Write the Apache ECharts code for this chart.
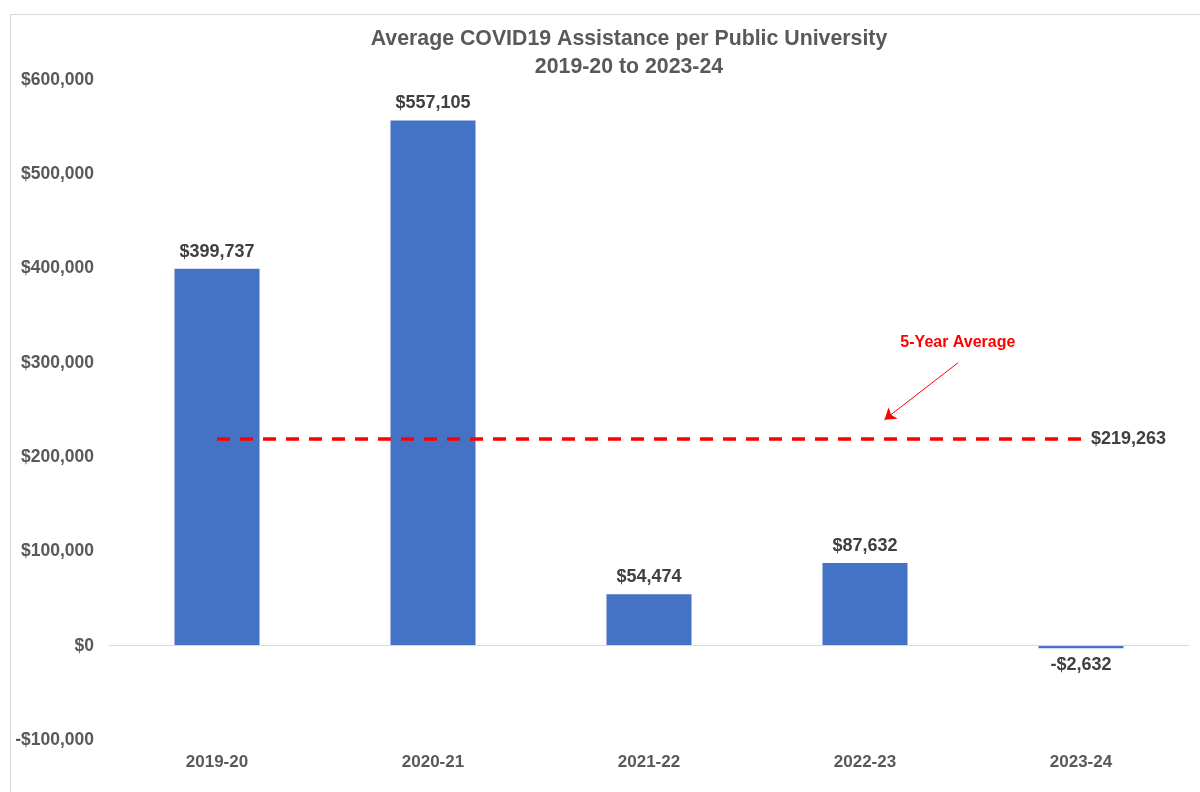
<!DOCTYPE html>
<html>
<head>
<meta charset="utf-8">
<script src="https://cdn.jsdelivr.net/npm/echarts@6/dist/echarts.min.js"></script>
<style>html,body{margin:0;padding:0;background:#fff}#c{width:1200px;height:792px}</style>
</head>
<body>
<div id="c"></div>
<script>
const categories = ['2019-20', '2020-21', '2021-22', '2022-23', '2023-24'];
const assistance = [399737, 557105, 54474, 87632, -2632];
const fiveYearAverage = [219263, 219263, 219263, 219263, 219263];
const averageLabel = '5-Year Average';
const arrowFrom = [3.43, 300000];
const arrowTo = [3.09, 239700];
const annotationAt = [3.43, 322000];

function money(v) {
  const s = '$' + Math.abs(v).toLocaleString('en-US');
  return v < 0 ? '-' + s : s;
}

const FONT = '"Liberation Sans", Arial, sans-serif';
const GRAY = '#595959';

const chart = echarts.init(document.getElementById('c'), null, {renderer: 'canvas'});
chart.setOption({
  backgroundColor: '#fff',
  animation: false,
  title: {
    text: 'Average COVID19 Assistance per Public University\n2019-20 to 2023-24',
    left: 624, top: 20, textAlign: 'center',
    textStyle: {fontFamily: FONT, fontSize: 21.3, fontWeight: 'bold', color: GRAY, lineHeight: 28}
  },
  graphic: [{
    type: 'rect', silent: true, z: -10,
    shape: {x: 10.5, y: 14.5, width: 1200, height: 800},
    style: {fill: 'none', stroke: '#d9d9d9', lineWidth: 1}
  }],
  grid: {left: 109, right: 11, top: 80, bottom: 52},
  xAxis: [{
    type: 'category', data: categories,
    axisLine: {show: false, onZero: false},
    axisTick: {show: false},
    axisLabel: {margin: 14, fontFamily: FONT, fontSize: 17, fontWeight: 'bold', color: GRAY}
  }, {
    type: 'value', min: -0.5, max: 4.5, show: false
  }],
  yAxis: {
    type: 'value', min: -100000, max: 600000, interval: 100000,
    axisLine: {show: false}, axisTick: {show: false}, splitLine: {show: false},
    axisLabel: {margin: 15, fontFamily: FONT, fontSize: 17.5, fontWeight: 'bold', color: GRAY,
      formatter: v => money(v)}
  },
  series: [{
    type: 'bar', barWidth: 85,
    data: assistance.map(v => ({value: v, label: {position: v < 0 ? 'bottom' : 'top'}})),
    itemStyle: {color: '#4472C4'},
    label: {show: true, distance: 8, fontFamily: FONT, fontSize: 18, fontWeight: 'bold', color: '#404040',
      formatter: p => money(p.value)},
    markLine: {
      silent: true, symbol: 'none',
      label: {show: false},
      lineStyle: {color: '#d9d9d9', type: 'solid', width: 1},
      data: [{yAxis: 0}]
    }
  }, {
    type: 'line', data: fiveYearAverage, symbol: 'none', z: 5,
    lineStyle: {color: '#ff0000', width: 3.5, type: [13, 10]},
    endLabel: {show: true, distance: 10, fontFamily: FONT, fontSize: 18, fontWeight: 'bold', color: '#404040',
      formatter: p => money(p.value)}
  }, {
    type: 'scatter', xAxisIndex: 1, data: [], silent: true,
    markLine: {
      silent: true,
      symbol: ['none', 'arrow'], symbolSize: 11,
      label: {show: false},
      itemStyle: {color: '#ff0000'},
      lineStyle: {color: '#ff0000', type: 'solid', width: 1},
      data: [[{coord: arrowFrom}, {coord: arrowTo}]]
    },
    markPoint: {
      silent: true, symbol: 'circle', symbolSize: 0,
      label: {show: true, position: 'inside', fontFamily: FONT, fontSize: 16, fontWeight: 'bold', color: '#ff0000',
        formatter: averageLabel},
      data: [{coord: annotationAt}]
    }
  }]
});
</script>
</body>
</html>
